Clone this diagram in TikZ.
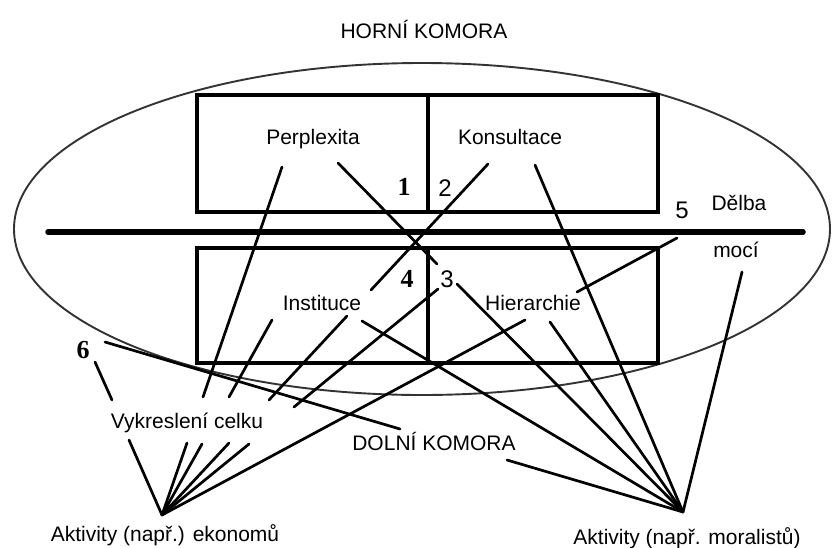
\documentclass[tikz,border=0pt]{standalone}
\usepackage{fontspec}
\setmainfont{Liberation Sans}
\newfontfamily\numserif{Liberation Serif}
\begin{document}
\begin{tikzpicture}[x=1pt,y=-1pt,
  conn/.style={line width=2.7pt, line cap=round},
  boxline/.style={line width=3.2pt},
  oval/.style={line width=1.9pt, draw=black!80},
  lbl/.style={font=\fontsize{21}{25}\selectfont, anchor=base, inner sep=0pt},
  numsans/.style={font=\fontsize{24}{28}\selectfont, anchor=base, inner sep=0pt},
  numser/.style={font=\fontsize{26}{30}\selectfont\numserif\bfseries, anchor=base, inner sep=0pt}]
\useasboundingbox (0,0) rectangle (833,547);

% ellipse and boxes
\draw[oval] (422,229) ellipse [x radius=408pt, y radius=166pt];
\draw[boxline] (197,95) rectangle (658,212);
\draw[boxline] (428,95) -- (428,212);
\draw[boxline] (197,248) rectangle (658,363);
\draw[boxline] (428,248) -- (428,363);
\draw[line width=5.5pt, line cap=round] (48,232) -- (803,232);

% texts
\node[lbl] (horni) at (424,38) {HORNÍ KOMORA};
\node[lbl] (perp) at (313,144) {Perplexita};
\node[lbl] (kons) at (510,144) {Konsultace};
\node[lbl] (inst) at (322,310) {Instituce};
\node[lbl] (hier) at (533,310) {Hierarchie};
\node[lbl] (delba) at (739,210) {Dělba};
\node[lbl] (moci) at (736,257) {mocí};
\node[lbl] (vykr) at (187,428) {Vykreslení celku};
\node[lbl] (dolni) at (434,450) {DOLNÍ KOMORA};
\node[lbl] (ekon) at (165,541) {Aktivity (např.) ekonomů};
\node[lbl] (moral) at (687,544) {Aktivity (např. moralistů)};

% numbers
\node[numser] (n1) at (404,195) {1};
\node[numsans] (n2) at (445,196) {2};
\node[numsans] (n3) at (447,287) {3};
\node[numser] (n4) at (407,287) {4};
\node[numsans] (n5) at (682,218) {5};
\node[numser] (n6) at (83,358) {6};

% hubs
\coordinate (hubE) at (162,515);
\coordinate (hubM) at (683,512);

% line end points
\coordinate (s6a) at (95,362);  \coordinate (s6b) at (112,400); \coordinate (s6c) at (129,440);
\coordinate (pe1) at (282,167); \coordinate (pe2) at (203,397); \coordinate (pe3) at (187,443);
\coordinate (ie1) at (272,320); \coordinate (ie2) at (229,397); \coordinate (ie3) at (202,444);
\coordinate (ke1) at (488,164); \coordinate (ke2) at (371,290); \coordinate (ke3) at (347,316);
\coordinate (ke4) at (269,400); \coordinate (ke5) at (229,443);
\coordinate (te1) at (438,289); \coordinate (te2) at (294,407); \coordinate (te3) at (249,444);
\coordinate (fe1) at (677,238); \coordinate (fe2) at (577,292); \coordinate (fe3) at (525,320);
\coordinate (pm1) at (338,163); \coordinate (pm2) at (437,264); \coordinate (pm3) at (457,284);
\coordinate (km1) at (535,165);
\coordinate (im1) at (362,321);
\coordinate (hm1) at (550,322);
\coordinate (mm1) at (742,272);
\coordinate (sm1) at (105,342); \coordinate (sm2) at (400,429); \coordinate (sm3) at (507,460);

% connectors to economists
\draw[conn] (s6a) -- (s6b);  \draw[conn] (s6c) -- (hubE);
\draw[conn] (pe1) -- (pe2);  \draw[conn] (pe3) -- (hubE);
\draw[conn] (ie1) -- (ie2);  \draw[conn] (ie3) -- (hubE);
\draw[conn] (ke1) -- (ke2);  \draw[conn] (ke3) -- (ke4); \draw[conn] (ke5) -- (hubE);
\draw[conn] (te1) -- (te2);  \draw[conn] (te3) -- (hubE);
\draw[conn] (fe1) -- (fe2);  \draw[conn] (fe3) -- (hubE);

% connectors to moralists
\draw[conn] (pm1) -- (pm2);  \draw[conn] (pm3) -- (hubM);
\draw[conn] (km1) -- (hubM);
\draw[conn] (im1) -- (hubM);
\draw[conn] (hm1) -- (hubM);
\draw[conn] (mm1) -- (hubM);
\draw[conn] (sm1) -- (sm2);  \draw[conn] (sm3) -- (hubM);
\end{tikzpicture}
\end{document}
